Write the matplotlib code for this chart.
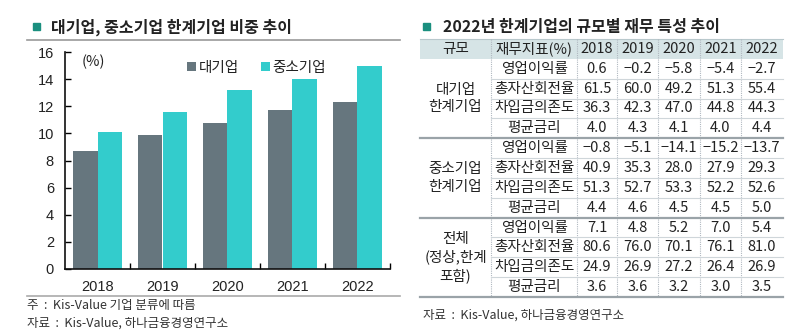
import matplotlib
matplotlib.use("Agg")
import matplotlib.pyplot as plt
import numpy as np

plt.rcParams['font.family'] = ['Noto Sans CJK KR', 'DejaVu Sans']

# bar chart data (%)
years = ["2018", "2019", "2020", "2021", "2022"]
large_share = [8.7, 9.9, 10.8, 11.7, 12.3]
sme_share = [10.1, 11.6, 13.2, 14.0, 15.0]

# table data
groups = ["대기업\n한계기업", "중소기업\n한계기업", "전체\n(정상,한계\n포함)"]
metrics = ["영업이익률", "총자산회전율", "차입금의존도", "평균금리"]
large_tbl = [[0.6, -0.2, -5.8, -5.4, -2.7],
             [61.5, 60.0, 49.2, 51.3, 55.4],
             [36.3, 42.3, 47.0, 44.8, 44.3],
             [4.0, 4.3, 4.1, 4.0, 4.4]]
sme_tbl = [[-0.8, -5.1, -14.1, -15.2, -13.7],
           [40.9, 35.3, 28.0, 27.9, 29.3],
           [51.3, 52.7, 53.3, 52.2, 52.6],
           [4.4, 4.6, 4.5, 4.5, 5.0]]
total_tbl = [[7.1, 4.8, 5.2, 7.0, 5.4],
             [80.6, 76.0, 70.1, 76.1, 81.0],
             [24.9, 26.9, 27.2, 26.4, 26.9],
             [3.6, 3.6, 3.2, 3.0, 3.5]]

DARK = "#66767e"
TEAL = "#33cccc"
MARK = "#1a8f7f"
TXT = "#222222"

W, H = 803, 332
fig = plt.figure(figsize=(W / 100, H / 100), dpi=100)

# ---- left: bar chart ----
ax = fig.add_axes([65 / W, 1 - 269 / H, 325 / W, 217 / H])
x = np.arange(len(years))
bw = 0.37
ax.bar(x - bw / 2, large_share, bw, color=DARK, label="대기업")
ax.bar(x + bw / 2, sme_share, bw, color=TEAL, label="중소기업")
ax.set_xlim(-0.5, 4.5)
ax.set_ylim(0, 16)
ax.set_yticks(range(0, 17, 2))
ax.set_xticks(x)
ax.set_xticklabels(years, family='Liberation Sans', fontsize=10.5, color=TXT)
ax.set_xticks(np.arange(0.5, 5, 1), minor=True)
ax.tick_params(axis='x', which='major', length=0, pad=8)
ax.tick_params(axis='x', which='minor', direction='in', length=4, width=1)
ax.tick_params(axis='y', direction='in', length=4, width=1, pad=8)
for lab in ax.get_yticklabels():
    lab.set_family('Liberation Sans')
    lab.set_fontsize(10.5)
    lab.set_color(TXT)
for s in ['top', 'right']:
    ax.spines[s].set_visible(False)
for s in ['left', 'bottom']:
    ax.spines[s].set_linewidth(1.2)
    ax.spines[s].set_color('#111111')
ax.text(0.05, 0.99, "(%)", transform=ax.transAxes, fontsize=10.5, va='top', color=TXT)
leg = ax.legend(loc='upper center', bbox_to_anchor=(0.59, 1.02), ncol=2, frameon=False,
                handlelength=0.6, handleheight=0.6, handletextpad=0.2, columnspacing=1.5,
                fontsize=10.5)
for t in leg.get_texts():
    t.set_color(TXT)

# ---- overlay for titles, lines and table ----
ov = fig.add_axes([0, 0, 1, 1], zorder=-1)
ov.set_xlim(0, W)
ov.set_ylim(H, 0)
ov.axis('off')

# left title / notes
ov.add_patch(plt.Rectangle((33, 23), 7, 7, color=MARK))
ov.text(51, 27, "대기업, 중소기업 한계기업 비중 추이", fontsize=11.5, fontweight='bold',
        va='center', color=TXT)
ov.plot([27, 400], [40, 40], color='#999999', lw=1.2)
ov.plot([27, 400], [296, 296], color='#aaaaaa', lw=1.2)
ov.text(27, 306, "주  :  Kis-Value 기업 분류에 따름", fontsize=9, va='center', color='#333333')
ov.text(27, 323, "자료  :  Kis-Value, 하나금융경영연구소", fontsize=9, va='center', color='#333333')

# right title
ov.add_patch(plt.Rectangle((423, 23), 7, 7, color=MARK))
ov.text(443, 27, "2022년 한계기업의 규모별 재무 특성 추이", fontsize=11.5, fontweight='bold',
        va='center', color=TXT)

# table grid
col_edges = [420, 491, 577, 617, 658, 700, 741, 783]
top = 39
rh = (297 - top) / 13
row_edges = [top + rh * k for k in range(14)]
col_cent = [(col_edges[i] + col_edges[i + 1]) / 2 for i in range(len(col_edges) - 1)]

ov.add_patch(plt.Rectangle((col_edges[0], row_edges[0]), col_edges[-1] - col_edges[0], rh,
                           facecolor='#d6e4e6', edgecolor='none'))
ov.plot([col_edges[0], col_edges[-1]], [row_edges[0], row_edges[0]], color='#b8c8cc', lw=0.8)

hy = (row_edges[0] + row_edges[1]) / 2
headers = ["규모", "재무지표(%)"] + years
for cx, h in zip(col_cent, headers):
    ov.text(cx, hy, h, ha='center', va='center', fontsize=10.5, color=TXT)

# vertical dotted separators
for xe in col_edges[1:-1]:
    ov.plot([xe, xe], [row_edges[0], row_edges[-1]], color='#b0b8c0', lw=0.8, ls=(0, (1, 1)))

def fmt(v):
    s = f"{abs(v):.1f}"
    return ("\u2212" + s) if v < 0 else s

tables = [large_tbl, sme_tbl, total_tbl]
for g, (gname, tbl) in enumerate(zip(groups, tables)):
    r0 = 1 + g * 4
    gy = (row_edges[r0] + row_edges[r0 + 4]) / 2
    ov.text(col_cent[0], gy, gname, ha='center', va='center', fontsize=10.5, color=TXT,
            linespacing=1.3)
    for i, m in enumerate(metrics):
        r = r0 + i
        cy = (row_edges[r] + row_edges[r + 1]) / 2
        ov.text(col_cent[1], cy, m, ha='center', va='center', fontsize=10.5, color=TXT)
        for j, v in enumerate(tbl[i]):
            ov.text(col_cent[2 + j], cy, fmt(v), ha='center', va='center', fontsize=10.5,
                    color=TXT, family=['Noto Sans CJK KR', 'DejaVu Sans'])
        if i < 3:
            ov.plot([col_edges[1], col_edges[-1]], [row_edges[r + 1]] * 2, color='#cfd6da', lw=0.8)
    # group separator / bottom line
    yb = row_edges[r0 + 4]
    ov.plot([col_edges[0], col_edges[-1]], [yb, yb], color='#9aa3a8', lw=1.6)

ov.text(423, 315, "자료  :  Kis-Value, 하나금융경영연구소", fontsize=9, va='center', color='#333333')

fig.savefig("out.png", dpi=100)
